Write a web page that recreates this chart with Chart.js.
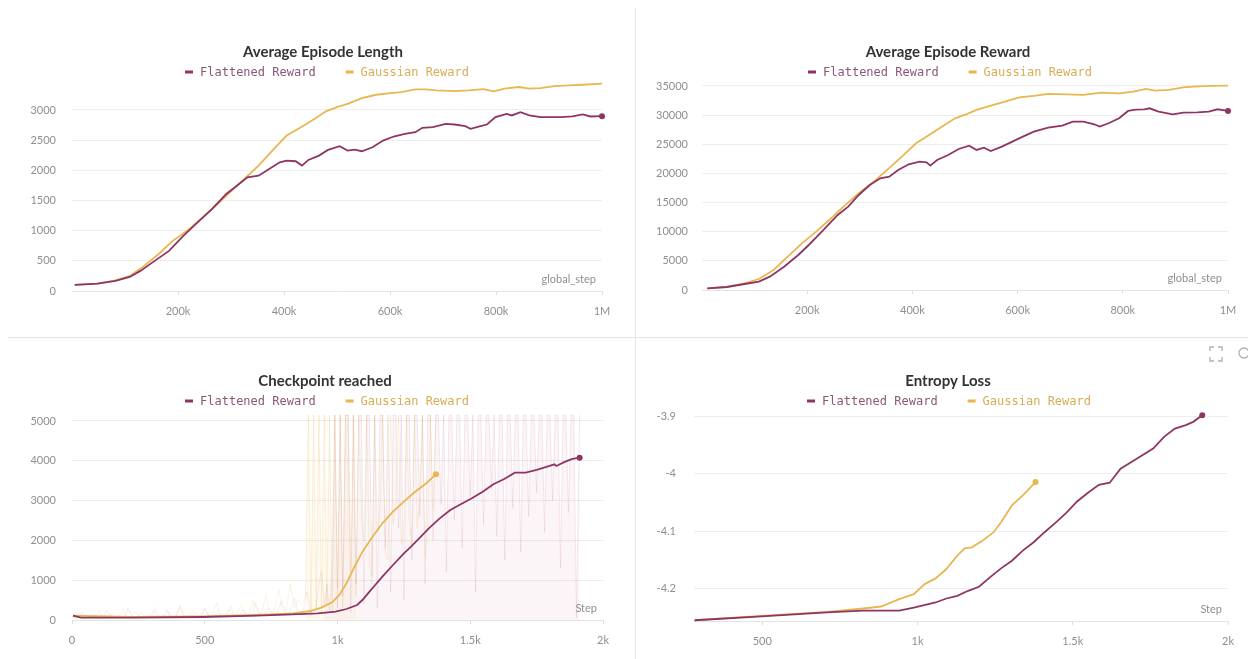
<!DOCTYPE html>
<html>
<head>
<meta charset="utf-8">
<script src="https://cdn.jsdelivr.net/npm/chart.js@4.4.1/dist/chart.umd.min.js"></script>
<style>
  html, body { margin: 0; padding: 0; background: #fff; }
  body { width: 1248px; height: 659px; position: relative; overflow: hidden; font-family: Lato, sans-serif; }
  .panel { position: absolute; }
  .divider-v { position: absolute; left: 635px; top: 8px; width: 1px; height: 651px; background: #e4e4e4; }
  .divider-h { position: absolute; left: 8px; top: 337px; width: 1240px; height: 1px; background: #e4e4e4; }
  .icons { position: absolute; left: 1209px; top: 346px; }
</style>
</head>
<body>
<div class="divider-v"></div>
<div class="divider-h"></div>
<div class="panel" style="left:0;top:0"><canvas id="lenChart" width="630" height="331"></canvas></div>
<div class="panel" style="left:636px;top:0"><canvas id="rewChart" width="612" height="330"></canvas></div>
<div class="panel" style="left:0;top:338px"><canvas id="cpChart" width="630" height="321"></canvas></div>
<div class="panel" style="left:636px;top:338px"><canvas id="entChart" width="612" height="321"></canvas></div>
<svg class="icons" width="39" height="18" viewBox="0 0 39 18">
  <path d="M1 5V1h4M9 1h4v4M13 11v4H9M5 15H1v-4" stroke="#b0b0b0" stroke-width="1.3" fill="none"/>
  <circle cx="35" cy="7" r="5" stroke="#b0b0b0" stroke-width="1.3" fill="none"/>
</svg>
<script>
// ---- Series names ----
const seriesNames = ['Flattened Reward', 'Gaussian Reward'];

// ---- Average Episode Length (x: global_step) ----
const lenFlatSteps = [5000, 48000, 82000, 109000, 129000, 156000, 183000, 210000, 237000, 264000, 291000, 311000, 331000, 352000, 372000, 392000, 405000, 422000, 434000, 446000, 466000, 483000, 505000, 520000, 533000, 547000, 567000, 587000, 607000, 628000, 648000, 661000, 681000, 705000, 722000, 742000, 752000, 769000, 783000, 799000, 820000, 830000, 846000, 863000, 884000, 904000, 924000, 944000, 964000, 978000, 1000000];
const lenFlat = [100, 122, 166, 233, 333, 499, 665, 914, 1136, 1357, 1607, 1745, 1884, 1911, 2022, 2133, 2161, 2150, 2078, 2172, 2244, 2338, 2399, 2327, 2344, 2316, 2382, 2493, 2560, 2604, 2631, 2704, 2715, 2770, 2759, 2731, 2687, 2726, 2759, 2881, 2936, 2909, 2964, 2909, 2881, 2881, 2881, 2892, 2925, 2892, 2897];
const lenGaussSteps = [5000, 48000, 82000, 109000, 136000, 163000, 190000, 217000, 244000, 271000, 298000, 325000, 352000, 378000, 405000, 432000, 453000, 480000, 500000, 520000, 547000, 574000, 601000, 621000, 648000, 668000, 688000, 722000, 749000, 776000, 796000, 816000, 843000, 863000, 884000, 910000, 937000, 964000, 1000000];
const lenGauss = [100, 122, 177, 249, 416, 609, 831, 997, 1202, 1413, 1634, 1856, 2078, 2327, 2576, 2715, 2825, 2981, 3047, 3102, 3197, 3252, 3280, 3296, 3341, 3341, 3324, 3313, 3324, 3346, 3307, 3352, 3380, 3352, 3363, 3396, 3407, 3418, 3435];
const lenTicks = [0, 500, 1000, 1500, 2000, 2500, 3000];

// ---- Average Episode Reward (x: global_step) ----
const rewFlatSteps = [10000, 47000, 81000, 108000, 129000, 156000, 183000, 203000, 231000, 258000, 278000, 298000, 319000, 339000, 356000, 373000, 393000, 414000, 427000, 434000, 447000, 468000, 488000, 508000, 522000, 536000, 549000, 570000, 590000, 610000, 631000, 658000, 685000, 705000, 725000, 746000, 756000, 773000, 793000, 810000, 824000, 841000, 851000, 868000, 895000, 915000, 942000, 963000, 980000, 1000000];
const rewFlat = [286, 515, 1030, 1430, 2288, 4004, 6006, 7722, 10296, 12870, 14300, 16302, 18018, 19162, 19448, 20592, 21564, 22022, 21908, 21336, 22308, 23166, 24196, 24768, 24024, 24424, 23852, 24596, 25454, 26312, 27170, 27856, 28200, 28886, 28886, 28428, 28028, 28600, 29458, 30716, 30945, 31002, 31174, 30602, 30144, 30430, 30488, 30602, 31002, 30716];
const rewGaussSteps = [10000, 47000, 81000, 108000, 136000, 163000, 190000, 217000, 244000, 271000, 298000, 325000, 353000, 380000, 407000, 434000, 461000, 481000, 502000, 522000, 549000, 576000, 603000, 631000, 658000, 692000, 725000, 759000, 793000, 820000, 844000, 861000, 888000, 915000, 942000, 970000, 1000000];
const rewGauss = [286, 515, 1144, 1888, 3432, 5720, 8008, 10010, 12184, 14472, 16588, 18476, 20706, 22880, 25168, 26712, 28314, 29458, 30144, 30888, 31632, 32318, 33062, 33290, 33634, 33576, 33462, 33862, 33748, 34034, 34492, 34206, 34320, 34776, 34948, 35006, 35064];
const rewTicks = [0, 5000, 10000, 15000, 20000, 25000, 30000, 35000];

const globalStepTicks = [200000, 400000, 600000, 800000, 1000000];

// ---- Checkpoint reached (x: Step), smoothed ----
const cpFlatSteps = [4, 34, 223, 493, 696, 831, 925, 993, 1034, 1074, 1094, 1115, 1142, 1169, 1209, 1250, 1277, 1304, 1344, 1385, 1425, 1466, 1506, 1547, 1587, 1628, 1668, 1709, 1750, 1790, 1817, 1824, 1858, 1885, 1912];
const cpFlat = [109, 59, 59, 75, 109, 142, 167, 209, 276, 377, 502, 670, 879, 1089, 1382, 1675, 1843, 2027, 2303, 2554, 2764, 2915, 3057, 3224, 3409, 3543, 3702, 3702, 3769, 3852, 3911, 3869, 3978, 4045, 4079];
const cpGaussSteps = [4, 223, 493, 696, 831, 898, 939, 980, 1007, 1034, 1061, 1094, 1128, 1169, 1209, 1250, 1290, 1331, 1371];
const cpGauss = [109, 75, 92, 126, 167, 226, 310, 444, 628, 921, 1298, 1717, 2052, 2429, 2722, 2973, 3208, 3417, 3660];

// ---- Checkpoint reached, raw (unsmoothed) values ----
// Flattened Reward: early phase, then the late phase where runs often reach the last checkpoint
const cpFlatRawEarlySteps = [0, 12, 25, 40, 52, 70, 85, 100, 118, 130, 150, 165, 180, 198, 210, 230, 245, 260, 278, 290,
  310, 325, 340, 358, 370, 390, 405, 420, 438, 450, 470, 485, 500, 518, 530, 550, 565, 580, 598, 610,
  630, 645, 660, 678, 690, 710, 725, 740, 758, 770, 790, 805, 820, 838, 850, 870, 885, 900, 918, 930, 940, 950];
const cpFlatRawEarly = [80, 50, 60, 210, 55, 60, 140, 50, 55, 250, 60, 70, 90, 55, 300, 60, 70, 180, 60, 65,
  240, 60, 90, 260, 70, 75, 330, 70, 80, 120, 75, 80, 280, 90, 85, 200, 95, 90, 350, 100,
  110, 260, 100, 120, 420, 120, 130, 300, 140, 150, 480, 160, 180, 560, 190, 210, 700, 230, 260, 900, 1200, 380];
const cpFlatRawLateSteps = [950, 960, 970, 980, 990, 1000, 1010, 1020, 1030, 1040, 1050, 1060, 1070, 1080, 1090, 1100, 1110, 1120, 1130, 1140, 1150, 1160, 1170, 1180, 1190, 1200, 1210, 1220, 1230, 1240, 1250, 1260, 1270, 1280, 1290, 1300,
  1310, 1320, 1330, 1340, 1350, 1360, 1370, 1380, 1390, 1400, 1410, 1420, 1430, 1440, 1450, 1460, 1470, 1480, 1490, 1500, 1510, 1520, 1530, 1540, 1550, 1560, 1570, 1580, 1590, 1600,
  1610, 1620, 1630, 1640, 1650, 1660, 1670, 1680, 1690, 1700, 1710, 1720, 1730, 1740, 1750, 1760, 1770, 1780, 1790, 1800, 1810, 1820, 1830, 1840, 1850, 1860, 1870, 1880, 1890, 1900, 1912];
const cpFlatRawLate = [380, 900, 250, 1400, 5150, 300, 5150, 600, 5150, 5150, 200, 5150, 900, 5150, 5150, 400, 5150, 5150, 1100, 5150, 300, 5150, 5150, 1800, 5150, 700, 5150, 5150, 2300, 5150, 500, 5150, 5150, 1500, 5150, 5150,
  2600, 5150, 900, 5150, 5150, 2000, 5150, 5150, 2900, 5150, 1200, 5150, 5150, 2500, 5150, 5150, 1800, 5150, 5150, 3100, 5150, 700, 5150, 5150, 2400, 5150, 5150, 3300, 5150, 2100,
  5150, 5150, 1500, 5150, 5150, 2800, 5150, 5150, 1700, 5150, 5150, 2600, 5150, 5150, 3200, 5150, 5150, 2200, 5150, 5150, 3000, 5150, 5150, 1300, 5150, 5150, 2700, 5150, 5150, 60, 5150];
// Gaussian Reward: early phase, a dense band around 1k, then a sparser tail
const cpGaussRawEarlySteps = [0, 15, 28, 42, 58, 72, 88, 102, 115, 132, 148, 160, 175, 192, 205, 222, 238, 250, 268, 282,
  300, 315, 330, 345, 362, 378, 392, 408, 422, 440, 455, 468, 482, 500, 515, 528, 545, 560, 575, 590,
  605, 620, 638, 652, 668, 682, 700, 715, 730, 745, 762, 778, 792, 808, 822, 838, 852, 866, 880];
const cpGaussRawEarly = [90, 60, 170, 55, 65, 120, 60, 230, 65, 70, 160, 60, 70, 280, 65, 75, 190, 70, 80, 150,
  75, 320, 80, 85, 210, 80, 90, 370, 90, 95, 240, 95, 100, 300, 105, 110, 420, 115, 120, 260,
  130, 140, 390, 150, 160, 500, 170, 180, 620, 200, 220, 780, 240, 260, 900, 300, 520, 380, 600];
const cpGaussRawBandSteps = [880, 890, 900, 910, 920, 930, 940, 950, 960, 970, 980, 990, 1000, 1010, 1020, 1030, 1040, 1050, 1060, 1070];
const cpGaussRawBand = [600, 5150, 100, 5150, 300, 5150, 150, 5150, 400, 5150, 200, 5150, 800, 5150, 300, 5150, 5150, 1200, 5150, 600];
const cpGaussRawTailSteps = [1070, 1080, 1090, 1100, 1110, 1120, 1130, 1140, 1150, 1160, 1170, 1180, 1190, 1200,
  1210, 1220, 1230, 1240, 1250, 1260, 1270, 1280, 1290, 1300, 1310, 1320, 1330, 1340, 1350, 1360, 1371];
const cpGaussRawTail = [600, 5150, 2600, 2000, 5150, 1400, 900, 5150, 2200, 2600, 5150, 1700, 1500, 5150,
  2400, 3000, 5150, 1900, 2200, 5150, 2600, 1800, 5150, 2300, 3200, 5150, 1600, 2400, 5150, 2800, 5150];
const cpTicks = [0, 1000, 2000, 3000, 4000, 5000];
const cpStepTicks = [0, 500, 1000, 1500, 2000];

// ---- Entropy Loss (x: Step) ----
const entFlatSteps = [282, 498, 708, 825, 941, 988, 1035, 1058, 1093, 1128, 1163, 1198, 1233, 1269, 1304, 1339, 1374, 1409, 1444, 1479, 1514, 1549, 1584, 1619, 1654, 1689, 1724, 1759, 1794, 1829, 1864, 1888, 1917];
const entFlat = [-4.2547, -4.248, -4.241, -4.238, -4.2378, -4.2326, -4.2267, -4.2238, -4.2169, -4.2122, -4.2035, -4.1965, -4.1802, -4.1645, -4.1512, -4.1337, -4.1192, -4.1017, -4.0855, -4.068, -4.0483, -4.0331, -4.0192, -4.0157, -3.9913, -3.9797, -3.968, -3.9564, -3.936, -3.9215, -3.9157, -3.9099, -3.8983];
const entGaussSteps = [282, 498, 708, 825, 883, 941, 988, 1023, 1058, 1093, 1128, 1152, 1175, 1210, 1245, 1269, 1304, 1339, 1380];
const entGauss = [-4.2547, -4.2471, -4.2401, -4.2343, -4.2308, -4.218, -4.2093, -4.1919, -4.182, -4.1657, -4.1424, -4.1297, -4.1279, -4.1163, -4.1017, -4.0843, -4.0552, -4.0378, -4.0145];
const entTicks = [-4.2, -4.1, -4, -3.9];
const entStepTicks = [500, 1000, 1500, 2000];

// ---- Styling ----
const PURPLE = '#8e3563';
const GOLD = '#e8b74f';
const KEY_TEXT = ['#8c5676', '#d8ad55'];
const TICK_COLOR = '#8f8f8f';
const TICK_FONT = { family: 'Lato', size: 11 };

function fmtStep(v) {
  if (v >= 1e6) return (v / 1e6) + 'M';
  if (v >= 1000) return (v / 1000) + 'k';
  return String(v);
}
function fmtNum(v) { return String(+v.toFixed(3)); }
function points(xs, ys) { return xs.map((x, i) => ({ x: x, y: ys[i] })); }
function endDot(xs, r) { return xs.map((_, i) => (i === xs.length - 1 ? r : 0)); }

function lineSet(label, xs, ys, color, dot) {
  return {
    label: label, data: points(xs, ys), borderColor: color, backgroundColor: color,
    borderWidth: 1.8, tension: 0, pointRadius: dot ? endDot(xs, 3) : 0, pointBorderWidth: 0,
    clip: 6, order: 0, keyed: true
  };
}
function rawSet(xs, ys, line, wash) {
  return {
    label: '', data: points(xs, ys), borderColor: line, backgroundColor: wash || 'transparent',
    fill: wash ? 'origin' : false, borderWidth: 1, tension: 0, pointRadius: 0, order: 5, keyed: false
  };
}

// Panel heading: bold title plus a legend row (short dash + monospace series name)
const panelHeader = {
  id: 'panelHeader',
  afterDraw(chart, args, opts) {
    const ctx = chart.ctx;
    ctx.save();
    ctx.font = 'bold 15px Lato';
    ctx.fillStyle = '#333333';
    ctx.textAlign = 'center';
    ctx.textBaseline = 'middle';
    ctx.fillText(opts.title, opts.titleX, opts.titleY);

    const items = chart.data.datasets.filter(d => d.keyed);
    ctx.font = '12px "DejaVu Sans Mono", monospace';
    const dash = 8, gapText = 7, gapItem = 30;
    const widths = items.map(d => dash + gapText + ctx.measureText(d.label).width);
    const total = widths.reduce((a, b) => a + b, 0) + gapItem * (items.length - 1);
    let x = opts.keyX - total / 2;
    ctx.textAlign = 'left';
    items.forEach((d, i) => {
      ctx.fillStyle = d.borderColor;
      ctx.fillRect(x, opts.keyY - 1.5, dash, 3);
      ctx.fillStyle = KEY_TEXT[i];
      ctx.fillText(d.label, x + dash + gapText, opts.keyY + 0.5);
      x += widths[i] + gapItem;
    });
    ctx.restore();
  }
};

// x-axis name shown inside the plot, bottom right
const stepLabel = {
  id: 'stepLabel',
  afterDatasetsDraw(chart, args, opts) {
    const ctx = chart.ctx, a = chart.chartArea;
    ctx.save();
    ctx.font = '11px Lato';
    ctx.fillStyle = TICK_COLOR;
    ctx.textAlign = 'right';
    ctx.textBaseline = 'middle';
    ctx.fillText(opts.text, a.right - 6, a.bottom - 12);
    ctx.restore();
  }
};

function build(id, o) {
  return new Chart(document.getElementById(id), {
    type: 'line',
    data: { datasets: o.datasets },
    options: {
      responsive: false,
      animation: false,
      events: [],
      layout: { padding: { top: o.top, left: 0, right: o.right, bottom: 0 } },
      plugins: {
        title: { display: false },
        legend: { display: false },
        tooltip: { enabled: false },
        panelHeader: { title: o.title, titleX: o.titleX, titleY: o.titleY, keyX: o.keyX, keyY: o.keyY },
        stepLabel: { text: o.xName }
      },
      scales: {
        x: {
          type: 'linear', min: o.xMin, max: o.xMax,
          afterBuildTicks: s => { s.ticks = o.xTicks.map(v => ({ value: v })); },
          afterFit: s => { s.height = o.xHeight; s.paddingLeft = 0; s.paddingRight = 0; },
          grid: { drawOnChartArea: false, drawTicks: true, tickLength: 4, color: '#dedede' },
          border: { display: true, color: '#e4e4e4' },
          ticks: { padding: 10, color: TICK_COLOR, font: TICK_FONT, maxRotation: 0, autoSkip: false, callback: v => fmtStep(v) }
        },
        y: {
          min: o.yMin, max: o.yMax,
          afterBuildTicks: s => { s.ticks = o.yTicks.map(v => ({ value: v })); },
          afterFit: s => { s.width = o.left; s.paddingTop = 0; s.paddingBottom = 0; },
          grid: { color: '#eeeeee', drawTicks: false },
          border: { display: false },
          ticks: { padding: o.yPad, color: TICK_COLOR, font: TICK_FONT, callback: v => fmtNum(v) }
        }
      }
    },
    plugins: [panelHeader, stepLabel]
  });
}

build('lenChart', {
  title: 'Average Episode Length', xName: 'global_step',
  titleX: 323, titleY: 52, keyX: 327, keyY: 72,
  top: 82.8, left: 72, right: 28, xHeight: 40, yPad: 16,
  xMin: 0, xMax: 1000000, xTicks: globalStepTicks,
  yMin: 0, yMax: 3450, yTicks: lenTicks,
  datasets: [
    lineSet(seriesNames[0], lenFlatSteps, lenFlat, PURPLE, true),
    lineSet(seriesNames[1], lenGaussSteps, lenGauss, GOLD, false)
  ]
});

build('rewChart', {
  title: 'Average Episode Reward', xName: 'global_step',
  titleX: 312, titleY: 52, keyX: 314, keyY: 72,
  top: 85.4, left: 66, right: 20, xHeight: 40, yPad: 14,
  xMin: 0, xMax: 1000000, xTicks: globalStepTicks,
  yMin: 0, yMax: 35100, yTicks: rewTicks,
  datasets: [
    lineSet(seriesNames[0], rewFlatSteps, rewFlat, PURPLE, true),
    lineSet(seriesNames[1], rewGaussSteps, rewGauss, GOLD, false)
  ]
});

build('cpChart', {
  title: 'Checkpoint reached', xName: 'Step',
  titleX: 325, titleY: 43, keyX: 327, keyY: 63,
  top: 76.6, left: 72, right: 27, xHeight: 39, yPad: 16,
  xMin: 0, xMax: 2000, xTicks: cpStepTicks,
  yMin: 0, yMax: 5160, yTicks: cpTicks,
  datasets: [
    lineSet(seriesNames[0], cpFlatSteps, cpFlat, PURPLE, true),
    lineSet(seriesNames[1], cpGaussSteps, cpGauss, GOLD, true),
    rawSet(cpFlatRawEarlySteps, cpFlatRawEarly, 'rgba(190, 105, 140, 0.13)'),
    rawSet(cpGaussRawEarlySteps, cpGaussRawEarly, 'rgba(236, 188, 88, 0.18)'),
    rawSet(cpFlatRawLateSteps, cpFlatRawLate, 'rgba(175, 85, 122, 0.13)', 'rgba(205, 130, 160, 0.08)'),
    rawSet(cpGaussRawBandSteps, cpGaussRawBand, 'rgba(236, 188, 88, 0.22)', 'rgba(242, 205, 120, 0.10)'),
    rawSet(cpGaussRawTailSteps, cpGaussRawTail, 'rgba(236, 188, 88, 0.2)')
  ]
});

build('entChart', {
  title: 'Entropy Loss', xName: 'Step',
  titleX: 312, titleY: 43, keyX: 313, keyY: 63,
  top: 77, left: 58, right: 20, xHeight: 38, yPad: 18,
  xMin: 280, xMax: 2000, xTicks: entStepTicks,
  yMin: -4.256, yMax: -3.898, yTicks: entTicks,
  datasets: [
    lineSet(seriesNames[0], entFlatSteps, entFlat, PURPLE, true),
    lineSet(seriesNames[1], entGaussSteps, entGauss, GOLD, true)
  ]
});
</script>
</body>
</html>
